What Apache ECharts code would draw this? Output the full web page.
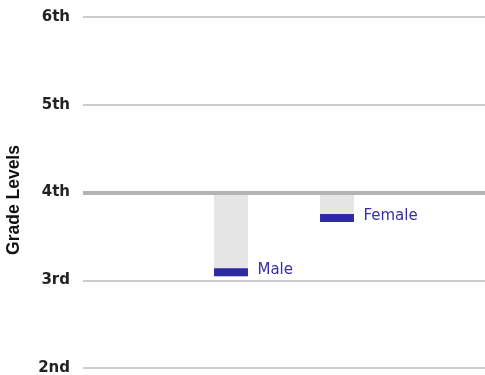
<!DOCTYPE html>
<html>
<head>
<meta charset="utf-8">
<script src="https://cdn.jsdelivr.net/npm/echarts@6/dist/echarts.min.js"></script>
<style>html,body{margin:0;padding:0;background:#fff}#c{width:485px;height:375px}</style>
</head>
<body>
<div id="c"></div>
<script>
const categories = ['Male', 'Female'];
const values = [3.09, 3.71];
const baseline = 4;
const tickLabels = { 2: '2nd', 3: '3rd', 4: '4th', 5: '5th', 6: '6th' };
const yMin = 2, yMax = 6;

const chart = echarts.init(document.getElementById('c'), null, { renderer: 'canvas' });
const bandCats = [''].concat(categories, ['']);
const option = {
  animation: false,
  grid: [
    { left: 83, right: 0, top: 17, bottom: 7, outerBoundsMode: 'none' },
    { left: 72, width: 424, top: 17, bottom: 7, outerBoundsMode: 'none' }
  ],
  xAxis: [
    { type: 'value', gridIndex: 0, min: 0, max: 1, show: false },
    { type: 'category', gridIndex: 1, data: bandCats, show: false, boundaryGap: true }
  ],
  yAxis: [
    {
      type: 'value', gridIndex: 0, min: yMin, max: yMax, interval: 1,
      axisLine: { show: false }, axisTick: { show: false },
      axisLabel: {
        formatter: v => tickLabels[v] || '', margin: 13,
        color: '#222', fontFamily: 'DejaVu Sans', fontWeight: 'bold', fontSize: 15
      },
      splitLine: { lineStyle: { color: '#cccccc', width: 2 } },
      name: 'Grade Levels', nameLocation: 'middle', nameGap: 60,
      nameTextStyle: { color: '#111', fontFamily: 'Liberation Sans', fontWeight: 'bold', fontSize: 17.5, padding: [0, 15, 0, 0] }
    },
    { type: 'value', gridIndex: 1, min: yMin, max: yMax, show: false }
  ],
  series: [
    {
      type: 'line', xAxisIndex: 0, yAxisIndex: 0, data: [], z: 10,
      markLine: {
        silent: true, symbol: 'none', label: { show: false },
        lineStyle: { color: '#b3b3b3', width: 4, type: 'solid' },
        data: [{ yAxis: baseline }], z: 10
      }
    },
    {
      type: 'custom', xAxisIndex: 1, yAxisIndex: 1, z: 2,
      data: categories.map((c, i) => [i + 1, values[i], c]),
      renderItem: function (params, api) {
        const idx = api.value(0), v = api.value(1);
        const top = api.coord([idx, baseline]);
        const bot = api.coord([idx, v]);
        const bw = api.size([1, 0])[0] * 0.32;
        const x0 = top[0] - bw / 2;
        return {
          type: 'group',
          children: [
            { type: 'rect', shape: { x: x0, y: top[1], width: bw, height: bot[1] - top[1] + 4 }, style: { fill: '#e5e5e5' } },
            { type: 'rect', shape: { x: x0, y: bot[1] - 4, width: bw, height: 8 }, style: { fill: '#2c2a9e' } },
            { type: 'text', x: x0 + bw + 9.5, y: bot[1] - 2, style: { text: categories[idx - 1], fill: '#3530a3', font: '15px "DejaVu Sans"', verticalAlign: 'middle', align: 'left' } }
          ]
        };
      }
    }
  ]
};
chart.setOption(option);
</script>
</body>
</html>
